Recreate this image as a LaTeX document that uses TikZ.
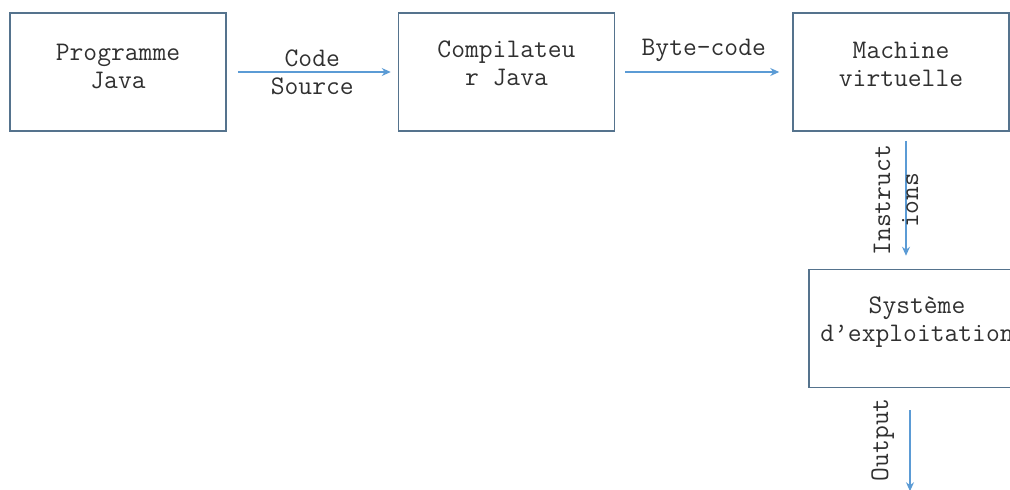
\documentclass[tikz,border=0pt]{standalone}
\usepackage{fontspec}
\usetikzlibrary{positioning, arrows.meta}
\definecolor{boxedge}{HTML}{55738D}
\definecolor{flowblue}{HTML}{5B9BD5}
\definecolor{inktext}{HTML}{303030}

\begin{document}
\begin{tikzpicture}[
		x=1pt, y=1pt,
		>=Stealth,
		every node/.style={font=\ttfamily\fontsize{26.8}{28}\selectfont, text=inktext},
		stagebox/.style={draw=boxedge, line width=1.5pt, minimum width=216pt, minimum height=118pt},
		stagetext/.style={align=center, inner sep=0pt},
		flow/.style={draw=flowblue, line width=1.3pt, -{Stealth[length=9pt, width=8pt]}},
		]
		\useasboundingbox (0,0) rectangle (1010,-490);
		\clip (0,0) rectangle (1010,-490);
		
		% Stages
		\node[stagebox] (prog) at (118,-72) {};
		\node[stagebox, right=171pt of prog] (comp) {};
		\node[stagebox, right=177pt of comp] (jvm) {};
		\node[stagebox, below=137pt of jvm, xshift=16pt] (os) {};
		
		% Texts in the stages
		\node[stagetext] (progtxt) at ([yshift=6pt]prog.center) {Programme\\Java};
		\node[stagetext] (comptxt) at ([yshift=9pt]comp.center) {Compilateu\\r Java};
		\node[stagetext] (jvmtxt) at ([yshift=8pt]jvm.center) {Machine\\virtuelle};
		\node[stagetext] (ostxt) at ([yshift=6pt]os.center) {Système\\d’exploitation};
		
		% Output end
		\coordinate (out) at ([xshift=-7pt, yshift=-103pt]os.south);
		
		% Arrows
		\draw[flow, shorten <=11pt, shorten >=7pt] (prog) -- node[midway, align=center] {Code\\Source} (comp);
		\draw[flow, shorten <=10pt, shorten >=13pt] (comp) -- node[midway, above=6pt] {Byte-code} (jvm);
		\draw[flow, shorten <=9pt, shorten >=13pt] ([xshift=5pt]jvm.south) -- node[midway, rotate=90, yshift=10pt, align=center] {Instruct\\ions} ([xshift=5pt]jvm.south |- os.north);
		\draw[flow, shorten <=22pt] ([xshift=-7pt]os.south) -- node[midway, rotate=90, anchor=south, yshift=12pt] {Output} (out);
		
	\end{tikzpicture}
\end{document}
